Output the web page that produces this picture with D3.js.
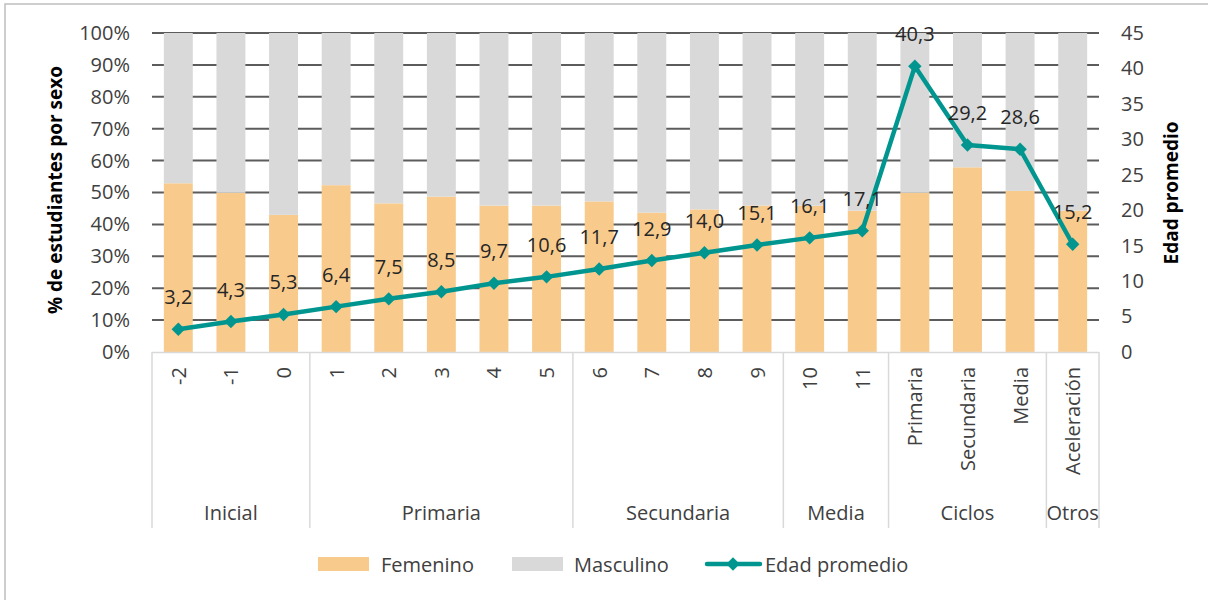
<!DOCTYPE html>
<html lang="es">
<head>
<meta charset="utf-8">
<title>Edad promedio y % de estudiantes por sexo</title>
<script src="https://cdn.jsdelivr.net/npm/d3@7"></script>
<style>
  html, body { margin: 0; padding: 0; background: #fff; }
  #chart { width: 1208px; height: 600px; overflow: hidden; }
  text { font-family: 'Open Sans', sans-serif; fill: #404040; }
</style>
</head>
<body>
<div id="chart"></div>
<script>
const CATEGORIES = ['-2', '-1', '0', '1', '2', '3', '4', '5', '6', '7', '8', '9', '10', '11',
  'Primaria', 'Secundaria', 'Media', 'Aceleración']
const GROUPS = ['Inicial', 'Primaria', 'Secundaria', 'Media', 'Ciclos', 'Otros']
const GROUP_SIZES = [3, 5, 4, 2, 3, 1]
const FEMENINO = [52.9, 49.9, 43.0, 52.3, 46.6, 48.7, 45.9, 45.9, 47.2, 43.7, 44.7, 45.9, 45.9, 44.3, 49.9, 57.9, 50.5, 44.3]
const MASCULINO = [47.1, 50.1, 57.0, 47.7, 53.4, 51.3, 54.1, 54.1, 52.8, 56.3, 55.3, 54.1, 54.1, 55.7, 50.1, 42.1, 49.5, 55.7]
const EDAD = [3.2, 4.3, 5.3, 6.4, 7.5, 8.5, 9.7, 10.6, 11.7, 12.9, 14.0, 15.1, 16.1, 17.1, 40.3, 29.2, 28.6, 15.2]
const LEFT_TICKS = [0, 10, 20, 30, 40, 50, 60, 70, 80, 90, 100]
const RIGHT_TICKS = [0, 5, 10, 15, 20, 25, 30, 35, 40, 45]

const CHART = Object.freeze({
  WIDTH: 1208,
  HEIGHT: 600,
  LEFT: 152,
  RIGHT: 1099,
  TOP: 33,
  BOTTOM: 352,
})
const COLORS = Object.freeze({
  FEM: '#f8cb8d',
  MASC: '#d9d9d9',
  LINE: '#00968f',
  GRID: '#5c5c5c',
  AXIS: '#d9d9d9',
  TEXT: '#404040',
})

const esLocale = d3.formatLocale({ decimal: ',', thousands: '.', grouping: [3], currency: ['', ''] })
const formatAge = esLocale.format('.1f')

const buildChart = () => {
  const svg = d3.select('#chart')
    .append('svg')
    .attr('width', CHART.WIDTH)
    .attr('height', CHART.HEIGHT)

  // chart border (only left/top visible in frame)
  svg.append('rect')
    .attr('x', 5)
    .attr('y', 4)
    .attr('width', CHART.WIDTH + 20)
    .attr('height', CHART.HEIGHT + 20)
    .attr('fill', 'none')
    .attr('stroke', '#bfbfbf')
    .attr('stroke-width', 1.5)

  const x = d3.scaleBand()
    .domain(CATEGORIES)
    .range([CHART.LEFT, CHART.RIGHT])
    .paddingInner(0.45)
    .paddingOuter(0.225)
  const yLeft = d3.scaleLinear().domain([0, 100]).range([CHART.BOTTOM, CHART.TOP])
  const yRight = d3.scaleLinear().domain([0, 45]).range([CHART.BOTTOM, CHART.TOP])
  const cx = c => x(c) + x.bandwidth() / 2

  // gridlines
  svg.append('g')
    .selectAll('line')
    .data(LEFT_TICKS.filter(d => d > 0))
    .enter()
    .append('line')
    .attr('x1', CHART.LEFT)
    .attr('x2', CHART.RIGHT)
    .attr('y1', d => yLeft(d))
    .attr('y2', d => yLeft(d))
    .attr('stroke', COLORS.GRID)
    .attr('stroke-width', 2)

  // stacked bars
  const rows = CATEGORIES.map((c, i) => ({ cat: c, fem: FEMENINO[i], masc: MASCULINO[i] }))
  const stacked = d3.stack().keys(['fem', 'masc'])(rows)
  svg.append('g')
    .selectAll('g')
    .data(stacked)
    .enter()
    .append('g')
    .attr('fill', d => d.key === 'fem' ? COLORS.FEM : COLORS.MASC)
    .selectAll('rect')
    .data(d => d)
    .enter()
    .append('rect')
    .attr('x', d => x(d.data.cat))
    .attr('width', x.bandwidth())
    .attr('y', d => yLeft(d[1]))
    .attr('height', d => yLeft(d[0]) - yLeft(d[1]))

  // base axis line
  svg.append('line')
    .attr('x1', CHART.LEFT)
    .attr('x2', CHART.RIGHT)
    .attr('y1', CHART.BOTTOM + 0.5)
    .attr('y2', CHART.BOTTOM + 0.5)
    .attr('stroke', COLORS.AXIS)
    .attr('stroke-width', 1.5)

  // left axis
  const leftAxis = svg.append('g')
    .attr('transform', `translate(${CHART.LEFT}, 0)`)
    .call(d3.axisLeft(yLeft).tickValues(LEFT_TICKS).tickSize(0).tickPadding(22).tickFormat(d => d + '%'))
  leftAxis.select('.domain').remove()
  leftAxis.selectAll('text')
    .style('font-family', "'Open Sans', sans-serif")
    .style('font-size', '20px')
    .attr('fill', COLORS.TEXT)

  // right axis
  const rightAxis = svg.append('g')
    .attr('transform', `translate(${CHART.RIGHT}, 0)`)
    .call(d3.axisRight(yRight).tickValues(RIGHT_TICKS).tickSize(0).tickPadding(22))
  rightAxis.select('.domain').remove()
  rightAxis.selectAll('text')
    .style('font-family', "'Open Sans', sans-serif")
    .style('font-size', '20px')
    .attr('fill', COLORS.TEXT)

  // axis titles
  svg.append('text')
    .attr('transform', 'translate(55, 190) rotate(-90)')
    .attr('text-anchor', 'middle')
    .attr('dominant-baseline', 'central')
    .style('font-size', '19px')
    .style('font-weight', 'bold')
    .style('fill', '#000')
    .text('% de estudiantes por sexo')

  svg.append('text')
    .attr('transform', 'translate(1171, 193) rotate(-90)')
    .attr('text-anchor', 'middle')
    .attr('dominant-baseline', 'central')
    .style('font-size', '19px')
    .style('font-weight', 'bold')
    .style('fill', '#000')
    .text('Edad promedio')

  // category labels (inner level)
  svg.append('g')
    .selectAll('text')
    .data(CATEGORIES)
    .enter()
    .append('text')
    .attr('transform', d => `translate(${cx(d)}, 367) rotate(-90)`)
    .attr('text-anchor', 'end')
    .attr('dominant-baseline', 'central')
    .style('font-size', '20px')
    .text(d => d)

  // group labels and separators
  const edges = [0]
  GROUP_SIZES.forEach(n => edges.push(edges[edges.length - 1] + n))
  const edgeX = i => CHART.LEFT + i * x.step()

  svg.append('g')
    .selectAll('line')
    .data(edges)
    .enter()
    .append('line')
    .attr('x1', d => edgeX(d))
    .attr('x2', d => edgeX(d))
    .attr('y1', CHART.BOTTOM)
    .attr('y2', 528)
    .attr('stroke', COLORS.AXIS)
    .attr('stroke-width', 1.5)

  svg.append('g')
    .selectAll('text')
    .data(GROUPS)
    .enter()
    .append('text')
    .attr('x', (d, i) => (edgeX(edges[i]) + edgeX(edges[i + 1])) / 2)
    .attr('y', 520)
    .attr('text-anchor', 'middle')
    .style('font-size', '20px')
    .text(d => d)

  // age line
  const line = d3.line()
    .x((d, i) => cx(CATEGORIES[i]))
    .y(d => yRight(d))
  svg.append('path')
    .datum(EDAD)
    .attr('d', line)
    .attr('fill', 'none')
    .attr('stroke', COLORS.LINE)
    .attr('stroke-width', 4.5)
    .attr('stroke-linejoin', 'round')

  const diamond = d3.symbol().type(d3.symbolSquare).size(90)
  svg.append('g')
    .selectAll('path')
    .data(EDAD)
    .enter()
    .append('path')
    .attr('d', diamond)
    .attr('transform', (d, i) => `translate(${cx(CATEGORIES[i])}, ${yRight(d)}) rotate(45)`)
    .attr('fill', COLORS.LINE)

  svg.append('g')
    .selectAll('text')
    .data(EDAD)
    .enter()
    .append('text')
    .attr('x', (d, i) => cx(CATEGORIES[i]))
    .attr('y', d => yRight(d) - 25)
    .attr('text-anchor', 'middle')
    .style('font-size', '20px')
    .style('fill', '#262626')
    .text(d => formatAge(d))

  // legend
  const legend = svg.append('g')
  legend.append('rect')
    .attr('x', 318).attr('y', 557).attr('width', 51).attr('height', 14)
    .attr('fill', COLORS.FEM)
  legend.append('text')
    .attr('x', 381).attr('y', 564).attr('dominant-baseline', 'central')
    .style('font-size', '20px').text('Femenino')
  legend.append('rect')
    .attr('x', 512).attr('y', 557).attr('width', 51).attr('height', 14)
    .attr('fill', COLORS.MASC)
  legend.append('text')
    .attr('x', 574).attr('y', 564).attr('dominant-baseline', 'central')
    .style('font-size', '20px').text('Masculino')
  legend.append('line')
    .attr('x1', 707).attr('x2', 760).attr('y1', 564).attr('y2', 564)
    .attr('stroke', COLORS.LINE).attr('stroke-width', 4.5).attr('stroke-linecap', 'round')
  legend.append('path')
    .attr('d', diamond)
    .attr('transform', 'translate(733, 564) rotate(45)')
    .attr('fill', COLORS.LINE)
  legend.append('text')
    .attr('x', 765).attr('y', 564).attr('dominant-baseline', 'central')
    .style('font-size', '20px').text('Edad promedio')
}

document.addEventListener('DOMContentLoaded', () => {
  buildChart()
})
</script>
</body>
</html>
